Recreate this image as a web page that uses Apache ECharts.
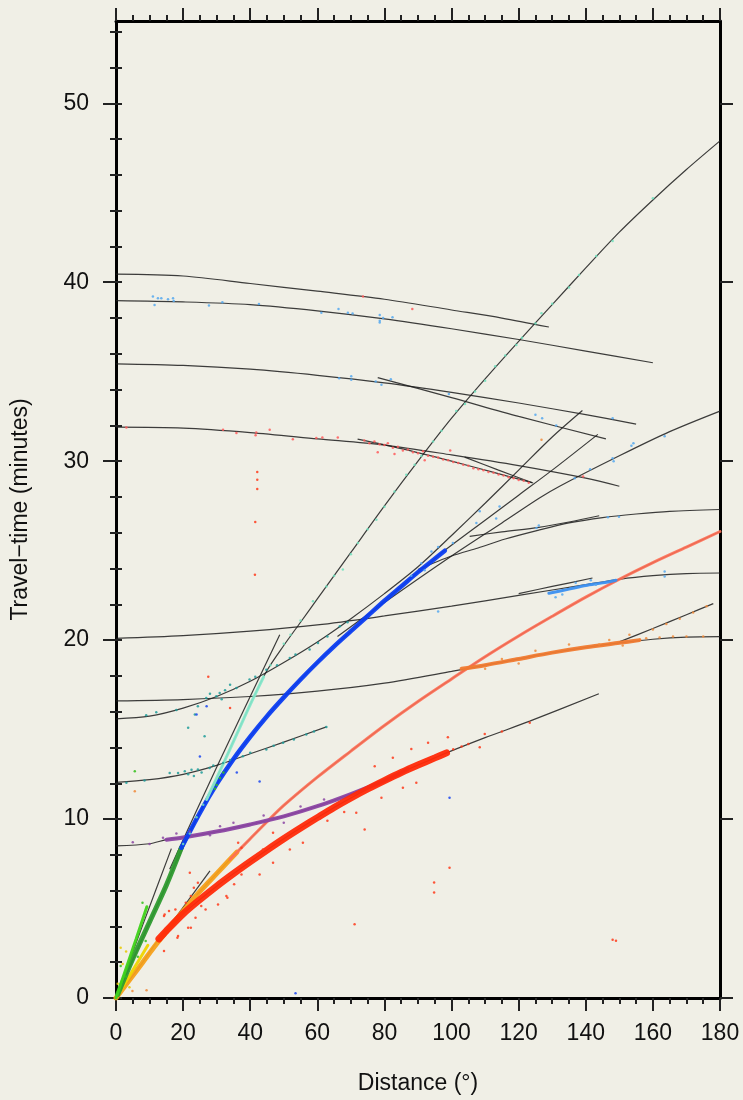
<!DOCTYPE html>
<html><head><meta charset="utf-8">
<script src="https://cdn.jsdelivr.net/npm/echarts@6/dist/echarts.min.js"></script>
<style>html,body{margin:0;padding:0;background:#f0efe6;}#c{width:743px;height:1100px;}</style>
</head><body><div id="c"></div>
<script>
// ---------- tick labels ----------
const xTickLabels = [0,20,40,60,80,100,120,140,160,180];
const yMajorTicks = [0,10,20,30,40,50];
const yMinorTicks = [0,2,4,6,8,10,12,14,16,18,20,22,24,26,28,30,32,34,36,38,40,42,44,46,48,50,52,54];

// ---------- theoretical curves (black) [distance deg, minutes] ----------
const tP = [[0,0],[4,1.0],[8,2.0],[12.8,3.3],[15,3.75],[20,4.7],[25,5.5],[30,6.25],[35,6.95],[40,7.62],[45,8.27],[50,8.9],[55,9.5],[60,10.08],[65,10.65],[70,11.18],[75,11.68],[80,12.15],[85,12.6],[90,13.02],[95,13.42],[98.5,13.7],[110,14.55],[123.3,15.47],[143.9,17.0]];
const tPtrip = [[17,4.3],[28,7.1]];
const tPP = [[24,5.75],[30,6.95],[35,7.95],[40,8.9],[45,9.85],[50,10.76],[60,12.34],[70,13.8],[80,15.23],[90,16.57],[100,17.83],[110,19.07],[120,20.23],[130,21.33],[140,22.4],[150,23.4],[160,24.33],[170,25.2],[180,26.07]];
const tPcP = [[0,8.5],[10,8.62],[15,8.85],[20,8.97],[30,9.3],[40,9.7],[50,10.15],[60,10.72],[70,11.4],[80,12.15],[87,12.8]];
const tScP = [[0,12.05],[10,12.2],[20,12.5],[30,13.0],[40,13.65],[50,14.3],[62.7,15.15]];
const tScS = [[0,15.6],[10,15.75],[20,16.2],[30,16.85],[40,17.7],[50,18.75],[60,19.9],[70,21.2],[80,22.6],[90,24.1],[100,25.85],[110,27.65],[120,29.5],[130,31.35],[139,32.83]];
const tS = [[0,0],[5,2.15],[10,4.25],[15,6.3],[19.5,8.4],[25,10.35],[30,11.95],[35,13.35],[40,14.6],[45,15.75],[50,16.8],[55,17.8],[60,18.75],[65,19.65],[70,20.5],[75,21.35],[80,22.2],[85,23.0],[90,23.8],[95,24.55],[97.5,24.95],[110,26.7],[120,28.1],[130,29.5],[143.6,31.5]];
const tSg = [[0,0],[8,4.1],[16.5,8.35]];
const tStrip = [[16,7.2],[30,12.9],[48.8,20.3]];
const tSS = [[0,0],[10,4.2],[20,8.4],[30,12.3],[40,16.4],[45,18.3],[50,19.7],[55,21.0],[60,22.3],[70,24.9],[80,27.5],[90,30.0],[100,32.4],[110,34.6],[120,36.7],[130,38.75],[140,40.8],[150,42.8],[160,44.6],[170,46.3],[180,47.9]];
const tSKS = [[66,20.2],[80,22.1],[100,24.7],[115,26.55],[126.2,27.94],[132.2,28.6],[150,30.3],[165,31.65],[180,32.8]];
const tSKKS = [[90,23.95],[100,24.7],[107.9,25.15],[116,25.65],[126,26.15],[135,26.55],[145,26.85],[155,27.05],[165,27.2],[180,27.3]];
const tSKKSb = [[105.4,25.8],[115,26.05],[126,26.3],[135,26.6],[144,26.95]];
const tF1 = [[0,20.1],[20,20.25],[40,20.5],[60,20.85],[80,21.35],[100,21.9],[120,22.5],[140,23.1],[150,23.4],[160,23.6],[170,23.72],[180,23.75]];
const tF1b = [[120,22.6],[130,23.0],[142,23.47]];
const tPKiKP = [[0,16.6],[20,16.68],[40,16.85],[60,17.15],[80,17.6],[100,18.25],[110,18.6],[120,18.95],[130,19.3],[140,19.6],[150,19.85],[160,20.05],[170,20.17],[180,20.2]];
const tPKPab = [[150,19.9],[160,20.65],[170,21.42],[178,22.04]];
const tH1 = [[0,40.45],[20,40.35],[40,39.93],[60,39.5],[80,39.05],[100,38.45],[115,38.0],[129,37.5]];
const tH2 = [[0,38.97],[20,38.9],[40,38.75],[60,38.4],[80,37.95],[100,37.4],[120,36.8],[140,36.15],[160,35.5]];
const tH3 = [[0,35.44],[20,35.35],[40,35.14],[60,34.8],[80,34.38],[100,33.85],[120,33.25],[140,32.6],[155,32.07]];
const tH4 = [[0,31.9],[20,31.85],[40,31.6],[60,31.25],[80,30.9],[100,30.35],[120,29.75],[140,29.05],[150,28.6]];
const tH5 = [[78,34.67],[100,33.55],[120,32.5],[146,31.25]];
const tRed = [[72,31.23],[85,30.7],[100,30.0],[112,29.4],[124,28.8]];
const tS1 = [[103.9,30.23],[114,29.5],[124.3,28.78]];

// ---------- dense observed bands ----------
const bandPn = [[0,0],[4,1.0],[8,2.0],[12,3.0],[16,3.95],[20,4.85],[24,5.75],[28,6.55],[32,7.35],[36,8.15]];
const bandPg = [[1,0.3],[5,1.55],[9.5,2.95]];
const bandP = [[12.8,3.3],[15,3.75],[20,4.7],[25,5.5],[30,6.25],[35,6.95],[40,7.62],[45,8.27],[50,8.9],[55,9.5],[60,10.08],[65,10.65],[70,11.18],[75,11.68],[80,12.15],[85,12.6],[90,13.02],[95,13.42],[98.5,13.7]];
const bandPP = [[34,7.75],[40,8.9],[45,9.85],[50,10.76],[60,12.34],[70,13.8],[80,15.23],[90,16.57],[100,17.83],[110,19.07],[120,20.23],[130,21.33],[140,22.4],[150,23.4],[160,24.33],[170,25.2],[180,26.07]];
const bandPcP = [[15,8.85],[20,8.97],[30,9.3],[40,9.7],[50,10.15],[60,10.72],[70,11.4],[80,12.15],[87,12.8]];
const bandSg = [[0,0],[3,1.65],[6,3.3],[9.2,5.1]];
const bandSn = [[0.5,0.2],[5,2.2],[10,4.25],[15,6.3],[19.5,8.4]];
const bandS = [[19.5,8.4],[25,10.35],[30,11.95],[35,13.35],[40,14.6],[45,15.75],[50,16.8],[55,17.8],[60,18.75],[65,19.65],[70,20.5],[75,21.35],[80,22.2],[85,23.0],[90,23.8],[95,24.55],[98,25.0]];
const bandSS = [[27,11.1],[32,13.1],[36,14.75],[40,16.4],[44,17.95]];
const bandPKP = [[103,18.4],[110,18.6],[120,18.95],[130,19.3],[140,19.6],[150,19.85],[156,20.0]];
const bandBlueCluster = [[129,22.62],[135,22.85],[140,23.05],[145,23.2],[149,23.35]];

// ---------- scattered picks ----------
const dotsRed = [[23.2,6.16],[22.3,5.7],[20.8,5.33],[15.8,4.86],[14.3,4.58],[23.7,4.49],[22.3,3.93],[26.7,4.95],[33.2,5.6],[35.2,6.35],[14.3,2.62],[18.3,3.37],[14.5,4.67],[17.7,4.95],[18.5,3.46],[21.5,3.93],[25.4,5.14],[30.4,5.23],[32.9,5.7],[37.4,6.9],[42.8,6.9],[46.8,7.56],[51.8,8.3],[55.7,8.68],[43.8,8.3],[46.8,9.24],[37.4,8.4],[36.4,8.68],[22,7.0],[24.4,6.44],[77.1,12.95],[82.5,13.42],[88,13.92],[93,14.26],[98.9,14.57],[109.9,14.76],[108.4,14.01],[123.3,15.38],[71.6,10.35],[79.1,11.19],[85.5,11.75],[89.5,12.03],[74.1,9.42],[99.4,7.28],[94.8,5.9],[94.8,6.45],[148,3.25],[149,3.2],[71.1,4.12],[63,9.9],[68,10.4],[100.5,13.9],[103,14.05],[105,14.2],[115,14.9],[42.1,29.4],[42.1,28.96],[42.1,28.44],[41.5,26.6],[41.4,23.65],[27.5,17.95],[34,16.2]];
const dotsPink = [[3.1,31.88],[31.9,31.75],[35.9,31.57],[41.8,31.6],[41.6,31.45],[45.8,31.75],[52.7,31.23],[59.7,31.29],[61.5,31.32],[66.1,31.32],[74,31.15],[75.5,31.0],[77,31.1],[78.5,30.95],[80,30.9],[81,31.0],[82.5,30.75],[84,30.8],[85.5,30.6],[87,30.65],[88.5,30.5],[90,30.45],[91.5,30.55],[93,30.3],[94.5,30.25],[96,30.2],[97.5,30.1],[99,30.05],[100.5,29.95],[102,29.9],[103.5,29.8],[105,29.75],[106.5,29.6],[108,29.55],[109.5,29.5],[111,29.4],[112.5,29.35],[114,29.25],[115.5,29.2],[117,29.1],[118.5,29.05],[120,28.95],[121.5,28.9],[123,28.8],[78,30.5],[83,30.4],[92,30.05],[99.6,30.6],[88.3,38.5],[73.6,39.2],[139.2,29.15]];
const dotsTeal = [[12,15.97],[24.4,16.3],[26.9,16.77],[29.9,16.86],[30.9,17.05],[32.5,17.2],[35.9,17.33],[39.8,17.8],[41.5,17.95],[44.8,18.35],[48,18.6],[51.8,19.0],[53.5,19.2],[57.7,19.47],[60.2,19.84],[63,20.2],[66.7,20.77],[69,21.0],[21.5,15.1],[23.5,15.84],[26.4,14.63],[28,17.0],[31.5,16.7],[34,17.5],[9,15.8],[18,16.1],[3.1,12.03],[8.5,12.15],[16,12.58],[18.5,12.58],[20.5,12.67],[21.5,12.5],[22.5,12.75],[23.2,12.4],[24.4,12.77],[25.5,12.6],[27.9,12.86],[29,13.0],[31.9,13.14],[34,13.3],[37.8,13.51],[40,13.7],[44.8,13.89],[47,14.1],[49.8,14.26],[53,14.45],[56.7,14.72],[59,14.9],[62.7,15.15]];
const dotsCyan = [[20,8.6],[22,9.2],[24,10.1],[26,10.8],[46,18.6],[50,19.8],[52,20.3],[55,21.1],[58.7,22.17],[62.7,23.0],[65,23.6],[67.6,23.94],[70,24.8],[72.1,25.43],[75,26.2],[77.6,26.73],[80,27.45],[83,28.3],[86.5,29.24],[89,29.8],[91,30.3],[94.5,31.1],[97,31.7],[101.4,32.8],[104,33.2],[107,33.9],[110,34.5],[113,35.3],[116,35.9],[119.3,36.5],[121,36.9],[125,37.7],[126.8,38.27],[130,38.8],[135,39.7],[138,40.4],[143.1,41.47],[148,42.3],[160,44.7]];
const dotsLightBlue = [[11,39.2],[11.5,38.73],[12.5,39.1],[13.5,39.1],[15.5,39.05],[17,39.1],[17.2,38.95],[27.7,38.7],[31.7,38.88],[42.6,38.78],[61.2,38.3],[66.3,38.5],[69.1,38.3],[70.5,38.25],[78.6,38.17],[78.6,37.75],[78.6,37.85],[79.6,38.0],[82.4,38.05],[66.5,34.64],[70.1,34.75],[70.1,34.55],[77.4,34.45],[79.1,34.27],[81.9,34.58],[99.2,33.75],[125,32.6],[127,32.4],[131.2,32.0],[148,32.4],[153.6,30.86],[154.2,31.0],[148,30.17],[148.3,30.0],[163.5,31.4],[141.3,29.55],[136.7,29.05],[113.3,26.8],[125.3,26.26],[126,26.4],[146.6,26.86],[149.9,26.9],[163.5,23.84],[163.5,23.56],[107.4,26.54],[100.4,25.43],[108.4,27.2],[114.3,27.47],[96,21.6],[131,22.4],[133,22.55],[137,23.2],[141.5,23.35],[143,23.1],[88,23.6],[91,24.3],[94,24.95],[96,25.2],[92,23.9]];
const dotsBlue = [[24,15.84],[42.8,12.1],[53.5,0.26],[99.4,11.19],[27,16.3],[25,13.5],[36,12.6]];
const dotsOrange = [[158,20.1],[162,20.15],[166,20.2],[170,20.2],[175,20.2],[160,20.6],[164,20.9],[168,21.2],[172,21.55],[176,21.9],[153,20.3],[151,19.7],[147,20.0],[144,19.75],[110,18.4],[115,18.95],[125,19.4],[135,19.75],[120,18.7],[4.9,0.39],[9.1,0.43],[5.6,11.56],[126.8,31.2]];
const dotsPurple = [[5,8.7],[10,8.6],[14,8.95],[22,9.3],[28,9.1],[35,9.8],[44,10.2],[50,9.8],[55,10.7],[62,11.1],[18,9.2],[31,9.6]];
const dotsGreen = [[7.9,5.33],[8.85,3.18],[1.4,1.79],[5.6,12.67],[3,1.2],[6.5,2.3],[29.5,11.7],[30,11.9],[31,12.3],[32,12.6]];
const dotsYellow = [[1.4,2.81],[2,1.9],[4,0.6],[3,2.6],[0.5,0.8]];

// ---------- build ----------
const blackCurves = [tP,tPtrip,tPP,tPcP,tScP,tScS,tS,tSg,tStrip,tSS,tSKS,tSKKS,tSKKSb,tF1,tF1b,tPKiKP,tPKPab,tH1,tH2,tH3,tH4,tH5,tRed,tS1];
const series = [];
blackCurves.forEach(c => series.push({type:'line', data:c, showSymbol:false, smooth:0.3, silent:true, z:2,
  lineStyle:{color:'#1c1c1c', width:1.2, opacity:0.85}}));
function band(data, color, width, op) {
  series.push({type:'line', data:data, showSymbol:false, smooth:0.3, silent:true, z:3,
    lineStyle:{color:color, width:width, opacity:op||0.95, cap:'round'}});
}
band(bandPn, '#f5a01a', 5);
band(bandPg, '#eed400', 3);
band(bandPP, '#ff6f55', 3, 0.9);
band(bandPcP, '#8b45a3', 4);
band(bandP, '#ff2a0a', 7);
band(bandSn, '#2f9b30', 5);
band(bandSg, '#3fd21a', 3);
band(bandS, '#0b3df2', 4.5);
band(bandSS, '#86e8cb', 3);
band(bandPKP, '#f07a30', 4);
band(bandBlueCluster, '#3a8ff0', 3);
function dots(data, color, size) {
  series.push({type:'scatter', data:data, symbolSize:size||2.5, silent:true, z:4,
    itemStyle:{color:color, opacity:0.85}});
}
dots(dotsRed, '#ff3a1a');
dots(dotsPink, '#ff5a5a');
dots(dotsTeal, '#1f9c9a');
dots(dotsCyan, '#6fe0bd');
dots(dotsLightBlue, '#55a8ee');
dots(dotsBlue, '#1a45f0');
dots(dotsOrange, '#f08a3a');
dots(dotsPurple, '#8b45a3');
dots(dotsGreen, '#33c01a');
dots(dotsYellow, '#e8c800');

const font = 'Liberation Sans, Arial, Helvetica, sans-serif';
const tickStyle = {color:'#222', width:2};
const option = {
  backgroundColor:'#f0efe6',
  animation:false,
  grid:{left:116, right:23, top:21, bottom:101, containLabel:false},
  xAxis:[
    {type:'value', position:'bottom', min:0, max:180, interval:20,
     axisLine:{show:true, onZero:false, lineStyle:{color:'#000', width:3}},
     axisTick:{show:true, length:13, lineStyle:tickStyle},
     minorTick:{show:true, splitNumber:4, length:6, lineStyle:tickStyle},
     axisLabel:{show:true, fontSize:23, color:'#111', margin:24, fontFamily:font,
       formatter:(v)=> xTickLabels.includes(v) ? String(v) : ''},
     splitLine:{show:false}, minorSplitLine:{show:false},
     name:'Distance (°)', nameLocation:'middle', nameGap:74,
     nameTextStyle:{fontSize:23, color:'#111', fontFamily:font}},
    {type:'value', position:'top', min:0, max:180, interval:20,
     axisLine:{show:true, onZero:false, lineStyle:{color:'#000', width:3}},
     axisTick:{show:true, length:13, lineStyle:tickStyle},
     minorTick:{show:true, splitNumber:4, length:6, lineStyle:tickStyle},
     axisLabel:{show:false}, splitLine:{show:false}}
  ],
  yAxis:[
    {type:'value', position:'left', min:0, max:54.6,
     axisLine:{show:true, onZero:false, lineStyle:{color:'#000', width:3}},
     axisTick:{show:true, length:13, lineStyle:tickStyle, customValues:yMajorTicks},
     axisLabel:{show:true, fontSize:23, color:'#111', margin:27, fontFamily:font, customValues:yMajorTicks},
     splitLine:{show:false},
     name:'Travel\u2212time (minutes)', nameLocation:'middle', nameGap:84,
     nameTextStyle:{fontSize:23, color:'#111', fontFamily:font}},
    {type:'value', position:'left', min:0, max:54.6,
     axisLine:{show:false}, axisTick:{show:true, length:6, lineStyle:tickStyle, customValues:yMinorTicks},
     axisLabel:{show:false}, splitLine:{show:false}},
    {type:'value', position:'right', min:0, max:54.6,
     axisLine:{show:true, onZero:false, lineStyle:{color:'#000', width:3}},
     axisTick:{show:true, length:13, lineStyle:tickStyle, customValues:yMajorTicks},
     axisLabel:{show:false}, splitLine:{show:false}},
    {type:'value', position:'right', min:0, max:54.6,
     axisLine:{show:false}, axisTick:{show:true, length:6, lineStyle:tickStyle, customValues:yMinorTicks},
     axisLabel:{show:false}, splitLine:{show:false}}
  ],
  series: series
};
const chart = echarts.init(document.getElementById('c'), null, {renderer:'canvas'});
chart.setOption(option);
</script>
</body></html>
